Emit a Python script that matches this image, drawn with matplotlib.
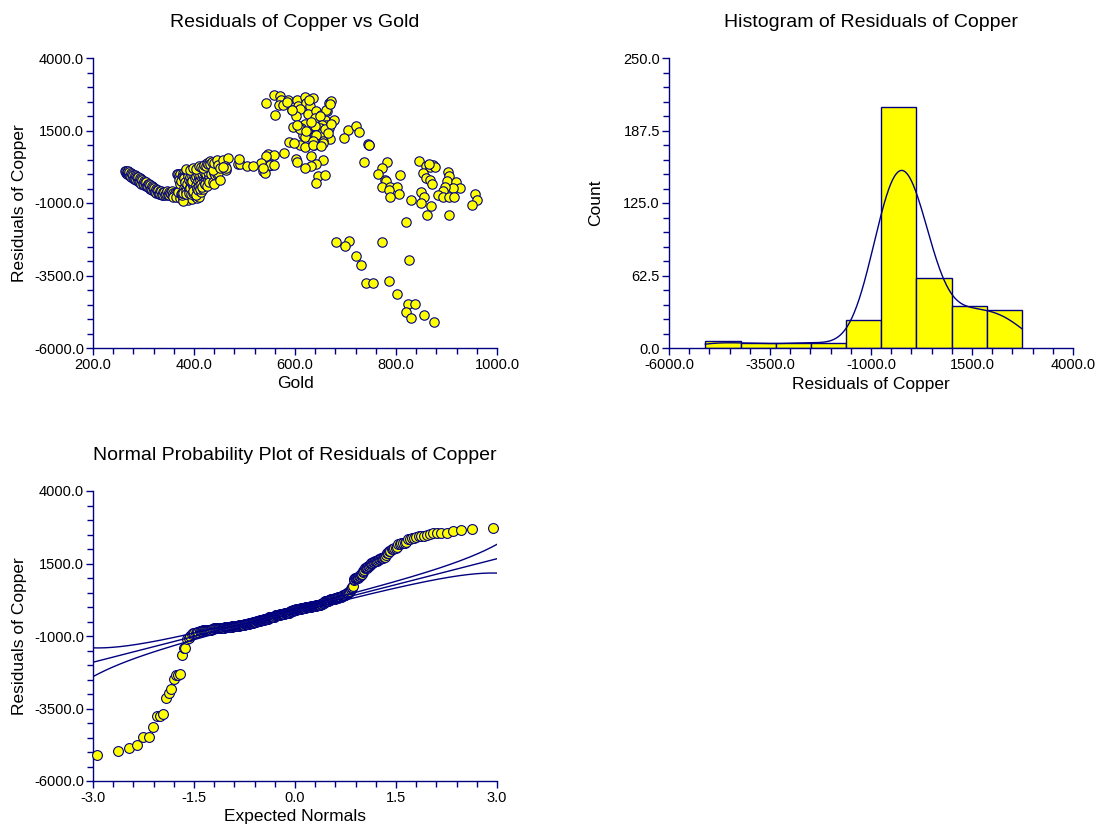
import numpy as np
import matplotlib
matplotlib.use("Agg")
import matplotlib.pyplot as plt
from statistics import NormalDist

plt.rcParams['font.family'] = ['Liberation Sans', 'DejaVu Sans']

NAVY = '#000080'
YELLOW = '#FFFF00'

# ---------------- data: Gold vs residuals of Copper ----------------
# long low-gold trail
trail_gold = [264, 265, 266, 267, 268, 269, 270, 271, 272, 274, 275, 276, 278, 279, 280, 281,
              283, 284, 285, 286, 288, 289, 290, 291, 293, 294, 295, 296, 298, 299, 300, 301,
              303, 304, 305, 306, 308, 309, 310, 312, 313, 314, 316, 317, 318, 320, 321, 322,
              324, 325, 326, 328, 329, 330, 332, 333, 335, 336, 338, 339, 340, 342, 344, 345,
              347, 348, 350, 351, 353, 355, 356, 358, 359, 361, 362, 364, 366, 367, 369, 370,
              372, 374]
trail_res = [100, 40, 110, -10, 80, 20, 110, -40, 60, -60, 30, -110, 10, -130, -20, -160,
             -40, -180, -70, -210, -100, -240, -120, -260, -150, -290, -170, -330, -200, -350, -230, -380,
             -260, -410, -290, -430, -330, -460, -350, -500, -390, -530, -420, -560, -450, -590, -480, -610,
             -510, -640, -540, -660, -560, -690, -580, -700, -600, -720, -620, -735, -630, -740, -640, -700,
             -600, -730, -620, -740, -640, -700, -590, -730, -650, -740, -660, -710, -620, -745, -680, -730,
             -650, -720]
trail_low_gold = [358, 365, 372, 378, 383, 388, 392, 396, 401, 405, 410, 378]
trail_low_res = [-780, -800, -830, -860, -820, -880, -790, -850, -770, -820, -780, -940]

# dense cluster around gold 370-450
cluster_gold = [366, 369, 371, 368, 373, 370, 374, 376, 373, 377,
                379, 375, 380, 378, 382, 376, 383, 380, 384, 379,
                381, 386, 384, 387, 383, 388, 385, 389, 386, 391,
                388, 392, 390, 394, 390, 393, 392, 396, 394, 397,
                394, 398, 396, 400, 398, 401, 397, 402, 400, 404,
                399, 405, 402, 406, 404, 408, 403, 409, 406, 410,
                408, 411, 407, 413, 410, 414, 412, 416, 411, 417,
                414, 418, 416, 420, 415, 421, 420, 424, 422, 426,
                422, 424, 428, 426, 430, 428, 433, 430, 435, 434,
                438, 439, 442, 439, 445, 448, 451]
cluster_res = [-5, 15, -85, -605, -15, -200, -690, -110, -330, -725,
               45, -225, -470, -60, -255, -660, 75, -95, -490, -665,
               -125, -310, -600, 55, -265, -430, -705, 45, -330, -550,
               -60, -445, -640, 95, -215, -480, -90, -250, -690, 70,
               -270, -410, -80, -425, -660, -10, -225, -605, -20, -390,
               -575, 55, -150, -525, -55, -250, -720, -90, -470, -540,
               10, -195, -565, -40, -400, -610, -25, -130, -500, -80,
               -345, -520, 40, -265, -440, 10, 65, -205, -360, -40,
               -345, 0, -195, -420, -80, 75, -245, -260, 20, 15,
               -290, 50, -20, -340, -15, 30, -210]
ctop_gold = [385, 392, 398, 404, 410, 414, 418, 420, 424, 425, 428, 431, 432, 436, 438, 440, 445, 448, 452]
ctop_res = [160, 150, 200, 180, 260, 230, 206, 300, 280, 379, 350, 436, 330, 420, 149, 380, 470, 300, 200]

# band gold 455-560
mid_gold = [457, 467, 461, 464, 487, 492, 504, 464, 457, 490, 553, 547, 537, 540]
mid_res = [494, 551, 264, 149, 356, 356, 287, 208, 243, 518, 323, 266, 92, 34]

# upper cluster gold 515-750
up_gold = [558, 571, 573, 586, 569, 576, 542, 560, 604, 606, 619, 621, 635, 629, 594, 609, 602,
           626, 642, 645, 639, 652, 659, 663, 668, 672, 678, 595, 662, 669, 627, 584, 650,
           662, 654, 649, 639, 659, 668, 619, 612, 596, 616, 626, 639, 649, 670, 655, 705, 720,
           726, 698, 744, 620, 609, 655, 588, 747, 642, 637, 599, 610, 622, 660, 672, 632, 665, 635, 603,
           619, 635, 652, 579, 602, 604, 632, 655, 641, 631, 619, 736, 546, 558, 543, 533, 550, 558,
           517, 536, 747, 645, 660, 641]
up_res = [2736, 2679, 2564, 2564, 2391, 2391, 2449, 2023, 2564, 2334, 2644, 2449, 2621, 2334, 2219, 2253, 1989,
          2069, 2161, 1931, 1931, 2046, 1873, 2184, 2449, 2506, 1873, 2196, 2219, 2414, 2540, 2470, 2010,
          1701, 1701, 1586, 1644, 1529, 1586, 1724, 1586, 1620, 1356, 1414, 1356, 1379, 1207, 1126, 1529, 1644,
          1437, 1241, 1034, 1264, 1011, 1068, 1103, 1000, 1357, 1013, 1070, 1553, 1470, 1564, 1737, 1800, 1400, 1150, 1700,
          919, 988, 954, 724, 528, 413, 609, 494, 356, 264, 206, 401, 689, 666, 608, 379, 321, 321,
          287, 206, 990, -81, -47, -311]

# right group gold 760-960
right_gold = [782, 773, 846, 860, 868, 873, 877, 866,
              764, 807, 778, 781, 773, 789, 802, 787, 806, 850, 853, 859, 867, 872, 903, 905, 900,
              918, 926, 912, 898, 893, 883, 956,
              789, 830, 855, 850, 870, 861, 905, 960, 950, 893, 904, 915]
right_res = [404, 208, 438, 289, 243, 323, 243, 330,
             13, -22, -194, -251, -447, -447, -447, -539, -688, -619, 36, -137, -217, -332, 59, -79, -251,
             -286, -481, -481, -447, -596, -711, -677,
             -791, -883, -791, -998, -1113, -1412, -1400, -906, -1067, -803, -791, -803]

# low-residual tail
tail_gold = [682, 707, 699, 772, 721, 731, 825, 741, 754, 786, 802, 824, 837, 820, 829, 855, 875, 819]
tail_res = [-2354, -2297, -2492, -2354, -2814, -3147, -2963, -3756, -3756, -3676, -4124, -4469, -4469,
            -4767, -4951, -4871, -5100, -1665]

hist_bins = 9
kde_bandwidth = 500.0
npp_center = -120.0      # reference line of the normal probability plot
npp_slope = 595.0
band_z = 1.96

gold = np.array(trail_gold + trail_low_gold + cluster_gold + ctop_gold + mid_gold + up_gold + right_gold + tail_gold, float)
resid = np.array(trail_res + trail_low_res + cluster_res + ctop_res + mid_res + up_res + right_res + tail_res, float)
n = len(resid)

# ---------------- figure ----------------
W, H = 1113, 835
fig = plt.figure(figsize=(W / 100, H / 100), dpi=100)


def axes_px(l, t, r, b):
    return fig.add_axes([l / W, 1 - b / H, (r - l) / W, (b - t) / H])


def style(ax, xt, xm, yt, ym, xlim, ylim, title, xlabel, ylabel):
    for s in ['top', 'right']:
        ax.spines[s].set_visible(False)
    for s in ['left', 'bottom']:
        ax.spines[s].set_color(NAVY)
        ax.spines[s].set_linewidth(1.0)
    ax.set_xticks(xt)
    ax.set_xticks(xm, minor=True)
    ax.set_yticks(yt)
    ax.set_yticks(ym, minor=True)
    ax.set_xticklabels(['%.1f' % v for v in xt])
    ax.set_yticklabels(['%.1f' % v for v in yt])
    ax.set_xlim(*xlim)
    ax.set_ylim(*ylim)
    ax.tick_params(which='both', direction='out', color=NAVY, labelsize=10.5, labelcolor='black')
    ax.tick_params(which='major', length=5, width=1)
    ax.tick_params(which='minor', length=4, width=1)
    ax.tick_params(axis='y', pad=1.5)
    ax.tick_params(axis='x', pad=2)
    ax.set_title(title, fontsize=14, pad=22)
    ax.set_xlabel(xlabel, fontsize=12.5, va='center')
    ax.set_ylabel(ylabel, fontsize=12.5, va='center')
    ax.xaxis.set_label_coords(0.5, -36 / 290)
    ax.yaxis.set_label_coords(-73 / 404, 0.5)


res_ticks = np.arange(-6000, 4001, 2500)
res_minor = np.arange(-6000, 4001, 500)

# --- scatter ---
ax1 = axes_px(93, 58, 497, 348)
ax1.scatter(gold, resid, s=46, facecolor=YELLOW, edgecolor=NAVY, linewidth=0.8, zorder=3, clip_on=False)
style(ax1, np.arange(200, 1001, 200), np.arange(200, 1001, 40), res_ticks, res_minor, (200, 1000), (-6000, 4000),
      'Residuals of Copper vs Gold', 'Gold', 'Residuals of Copper')

# --- histogram ---
ax2 = axes_px(669, 58, 1073, 348)
counts, edges = np.histogram(resid, bins=hist_bins)
ax2.bar(edges[:-1], counts, width=np.diff(edges), align='edge', color=YELLOW, edgecolor=NAVY, linewidth=1.0, zorder=2)
xs = np.linspace(resid.min(), resid.max(), 400)
dens = np.exp(-0.5 * ((xs[:, None] - resid[None, :]) / kde_bandwidth) ** 2).sum(axis=1) / (n * kde_bandwidth * np.sqrt(2 * np.pi))
ax2.plot(xs, dens * n * np.diff(edges)[0], color=NAVY, linewidth=1.0, zorder=3)
style(ax2, res_ticks, res_minor, np.arange(0, 250.1, 62.5), np.arange(0, 250.1, 12.5), (-6000, 4000), (0, 250),
      'Histogram of Residuals of Copper', 'Residuals of Copper', 'Count')

# --- normal probability plot ---
ax3 = axes_px(93, 491, 497, 781)
nd = NormalDist()
srt = np.sort(resid)
zexp = np.array([nd.inv_cdf((i - 0.375) / (n + 0.25)) for i in range(1, n + 1)])
ax3.scatter(zexp, srt, s=50, facecolor=YELLOW, edgecolor=NAVY, linewidth=0.8, zorder=3, clip_on=False)
zz = np.linspace(-3, 3, 300)
pp = np.array([nd.cdf(v) for v in zz])
phi = np.array([nd.pdf(v) for v in zz])
se = npp_slope / phi * np.sqrt(pp * (1 - pp) / n)
line = npp_center + npp_slope * zz
for k in (-1, 0, 1):
    ax3.plot(zz, line + k * band_z * se, color=NAVY, linewidth=1.0, zorder=4)
style(ax3, np.arange(-3, 3.01, 1.5), np.arange(-3, 3.01, 0.3), res_ticks, res_minor, (-3, 3), (-6000, 4000),
      'Normal Probability Plot of Residuals of Copper', 'Expected Normals', 'Residuals of Copper')

fig.savefig('out.png', dpi=100)
